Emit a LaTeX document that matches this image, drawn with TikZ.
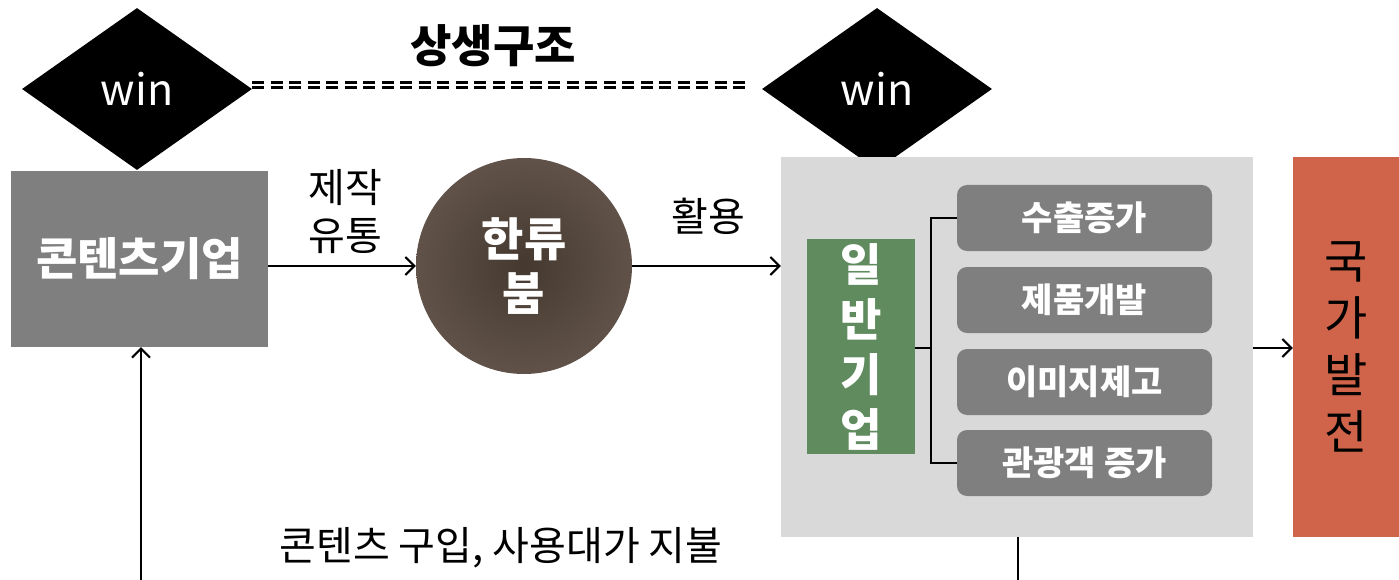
\documentclass[tikz,border=0pt]{standalone}
\usepackage{fontspec}
\setmainfont{Noto Sans CJK KR}
\usetikzlibrary{arrows.meta,shapes.geometric,calc}
\definecolor{boxgray}{HTML}{7F7F7F}
\definecolor{panelgray}{HTML}{D9D9D9}
\definecolor{greenbox}{HTML}{608B5E}
\definecolor{redbox}{HTML}{D0644A}
\definecolor{circin}{HTML}{45392F}
\definecolor{circout}{HTML}{605249}
\tikzset{
  winshape/.style={diamond, aspect=1.42, fill=black, inner sep=0pt, minimum width=230pt, minimum height=162pt, text=white, font=\fontsize{43}{46}\selectfont},
  arr/.style={line width=2pt, -{Straight Barb[length=9pt,width=18pt,line width=2pt]}},
  conn/.style={line width=2pt},
  whitebold/.style={text=white, font=\fontsize{45}{50}\bfseries\selectfont, align=center},
  subbox/.style={fill=boxgray, rounded corners=10pt, minimum width=255pt, minimum height=66pt, inner sep=0pt, text=white, font=\fontsize{34}{38}\bfseries\selectfont},
  lbl/.style={font=\fontsize{40}{48}\selectfont, align=center},
  dashline/.style={line width=2.7pt, dash pattern=on 12pt off 6.5pt}
}
\begin{document}
\begin{tikzpicture}[x=1pt, y=-1pt]
\useasboundingbox (0,0) rectangle (1399,580);
% title
\node[font=\fontsize{45}{50}\bfseries\selectfont] (title) at (493,46) {상생구조};
% diamonds
\node[winshape] (d1) at (137,89) {win};
\node[winshape] (d2) at (877,89) {win};
\draw[dashline] ($(d1.east)+(0,-6.5)$) -- ($(d2.west)+(-12,-6.5)$);
\draw[dashline] ($(d1.east)+(0,-1.3)$) -- ($(d2.west)+(-12,-1.3)$);
% left box
\node[fill=boxgray, minimum width=257pt, minimum height=176pt, inner sep=0pt, whitebold] (cb) at (139.5,259) {콘텐츠기업};
% circle
\node[circle, minimum size=216pt, inner sep=0pt, inner color=circin, outer color=circout, whitebold, font=\fontsize{46}{54}\bfseries\selectfont] (hb) at (524,266) {한류\\붐};
\draw[arr] (cb.east |- hb.west) -- (hb.west);
\node[lbl] (l1) at (345,212) {제작\\유통};
% panel
\node[fill=panelgray, minimum width=472pt, minimum height=380pt, inner sep=0pt] (panel) at (1017,347) {};
\draw[arr] (hb.east) -- (hb.east -| panel.west);
\node[lbl] (l2) at (708,216) {활용};
% green box
\node[fill=greenbox, minimum width=108pt, minimum height=215pt, inner sep=0pt, text=white, font=\fontsize{45}{55}\bfseries\selectfont, align=center] (gb) at (861,346.5) {일\\반\\기\\업};
% sub boxes
\node[subbox] (s1) at (1084.5,218) {수출증가};
\node[subbox] (s2) at (1084.5,300) {제품개발};
\node[subbox] (s3) at (1084.5,382) {이미지제고};
\node[subbox] (s4) at (1084.5,463) {관광객 증가};
\coordinate (bk) at (931,348);
\draw[conn] (gb.east |- bk) -- (bk);
\draw[conn] (s1.west) -- (s1.west -| bk) -- (s4.west -| bk) -- (s4.west);
% red box
\node[fill=redbox, minimum width=106pt, minimum height=380pt, inner sep=0pt, font=\fontsize{47}{57}\selectfont, align=center] (rb) at (1346,347) {국\\가\\발\\전};
\draw[arr] (panel.east |- bk) -- (rb.west |- bk);
% bottom
\node[font=\fontsize{40}{44}\selectfont] (l3) at (501,548) {콘텐츠 구입, 사용대가 지불};
\coordinate (b1) at (141,580);
\draw[arr] (b1) -- (b1 |- cb.south);
\coordinate (b2) at (1018,580);
\draw[conn] (b2 |- panel.south) -- (b2);
\end{tikzpicture}
\end{document}
